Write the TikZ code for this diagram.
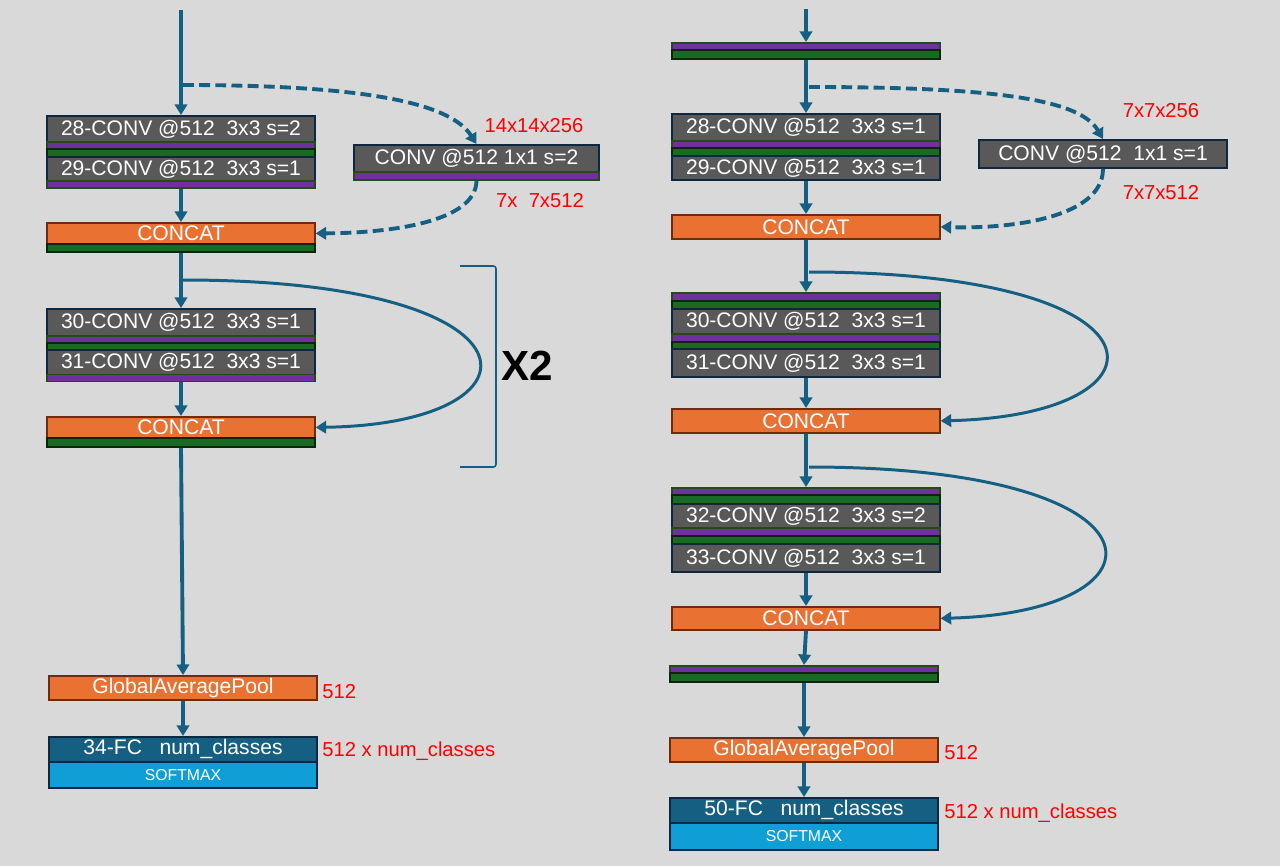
\documentclass[tikz,border=0pt]{standalone}
\usepackage{fontspec}
\setmainfont{Liberation Sans}
\usetikzlibrary{arrows.meta}
\definecolor{bg}{HTML}{D9D9D9}
\definecolor{linkblue}{HTML}{156082}
\definecolor{convgrey}{HTML}{595959}
\definecolor{convedge}{HTML}{0E2841}
\definecolor{bnpurple}{HTML}{7030A0}
\definecolor{bnedge}{HTML}{27491A}
\definecolor{actgreen}{HTML}{196B24}
\definecolor{actedge}{HTML}{0B260D}
\definecolor{catorange}{HTML}{E97132}
\definecolor{catedge}{HTML}{6E2C0E}
\definecolor{fcblue}{HTML}{156082}
\definecolor{smblue}{HTML}{0F9ED5}
\tikzset{
	flow/.style={draw=linkblue, line width=2.2pt, -{Triangle[width=7pt,length=6pt]}},
	skip/.style={flow, dash pattern=on 6.2pt off 3pt},
	around/.style={flow, line width=1.7pt},
	brk/.style={draw=linkblue, line width=0.9pt, rounded corners=1.5pt},
	ht/.style={minimum height=#1*0.02cm},
	layer/.style={draw=convedge, line width=1pt, inner sep=0pt, anchor=north, minimum width=5.35cm, text=white, font=\fontsize{12}{14}\selectfont},
	conv/.style={layer, fill=convgrey},
	bn/.style={layer, fill=bnpurple, draw=bnedge},
	act/.style={layer, fill=actgreen, draw=actedge},
	cat/.style={layer, fill=catorange, draw=catedge},
	fc/.style={layer, fill=fcblue},
	soft/.style={layer, fill=smblue, font=\fontsize{9}{10}\selectfont},
	dims/.style={text=red, inner sep=0pt, font=\fontsize{11.5}{13}\selectfont},
}
\begin{document}
\begin{tikzpicture}[x=0.02cm, y=-0.02cm]
			\useasboundingbox (0,0) rectangle (1280,866);
			\fill[bg] (0,0) rectangle (1280,866);
			% left: two-block stage
			\coordinate (lin) at (181,10);
			\coordinate (lj1) at (183,85);
			\coordinate (lj2) at (183,280);
			\node[conv, ht=26] (l28) at (181,115) {28-CONV @512\ \ 3x3 s=2};
			\node[bn, ht=7] (l28b) at (181,141) {};
			\node[act, ht=8] (l28a) at (181,148) {};
			\node[conv, ht=25] (l29) at (181,156) {29-CONV @512\ \ 3x3 s=1};
			\node[bn, ht=7] (l29b) at (181,180) {};
			\node[conv, ht=27, minimum width=4.9cm] (lsc) at (476.5,144) {CONV @512 1x1 s=2};
			\node[bn, ht=8, minimum width=4.9cm] (lscb) at (476.5,171) {};
			\node[dims] (lscin) at (534,126) {14x14x256};
			\node[dims] (lscout) at (540,201) {7x\ \ 7x512};
			\node[cat, ht=21] (lc1) at (181,222) {CONCAT};
			\node[act, ht=8] (lc1a) at (181,243) {};
			\node[conv, ht=27] (l30) at (181,308) {30-CONV @512\ \ 3x3 s=1};
			\node[bn, ht=7] (l30b) at (181,335) {};
			\node[act, ht=7] (l30a) at (181,342) {};
			\node[conv, ht=24.5] (l31) at (181,349) {31-CONV @512\ \ 3x3 s=1};
			\node[bn, ht=7] (l31b) at (181,373.5) {};
			\node[cat, ht=21] (lc2) at (181,416) {CONCAT};
			\node[act, ht=9] (lc2a) at (181,437) {};
			\node[cat, ht=24] (lgap) at (183,675) {GlobalAveragePool};
			\node[fc, ht=25] (lfc) at (183,736) {34-FC\ \ \ num\_classes};
			\node[soft, ht=26] (lsm) at (183,761) {SOFTMAX};
			\node[dims, anchor=west] (lgapd) at (322,692) {512};
			\node[dims, anchor=west] (lfcd) at (322,751) {512 x num\_classes};
			\node[font=\bfseries\fontsize{24}{26}\selectfont, inner sep=0pt] (rep) at (527,366) {X2};
			\coordinate (lbt) at (460,266);
			\coordinate (lbb) at (460,467);
			\draw[brk] (lbt) -- (496,266) -- (496,467) -- (lbb);
			\draw[flow] (lin) to (l28.north);
			\draw[skip] (lj1) .. controls (380,85) and (452,106) .. (lsc.north);
			\draw[skip] (lscb.south) .. controls (476,222) and (390,233) .. (lc1.east);
			\draw[flow] (l29b.south) to (lc1.north);
			\draw[flow] (lc1a.south) to (l30.north);
			\draw[around] (lj2) .. controls (552,280) and (552,424) .. (lc2.east);
			\draw[flow] (l31b.south) to (lc2.north);
			\draw[flow] (lc2a.south) to (lgap.north);
			\draw[flow] (lgap.south) to (lfc.north);
			% right: three-block stage
			\coordinate (rin) at (806,9);
			\coordinate (rj1) at (809,87);
			\coordinate (rj2) at (809,272);
			\coordinate (rj3) at (809,467);
			\node[bn, ht=7] (rb0) at (806,42) {};
			\node[act, ht=9] (ra0) at (806,49) {};
			\node[conv, ht=27] (r28) at (806,113) {28-CONV @512\ \ 3x3 s=1};
			\node[bn, ht=7] (r28b) at (806,140) {};
			\node[act, ht=8] (r28a) at (806,147) {};
			\node[conv, ht=24] (r29) at (806,155) {29-CONV @512\ \ 3x3 s=1};
			\node[conv, ht=28, minimum width=4.96cm] (rsc) at (1103,139) {CONV @512\ \ 1x1 s=1};
			\node[dims] (rscin) at (1161,111) {7x7x256};
			\node[dims] (rscout) at (1161,193) {7x7x512};
			\node[cat, ht=24] (rc1) at (806,214) {CONCAT};
			\node[bn, ht=8] (r30b) at (806,292) {};
			\node[act, ht=8] (r30a) at (806,300) {};
			\node[conv, ht=25] (r30) at (806,308) {30-CONV @512\ \ 3x3 s=1};
			\node[bn, ht=8] (r31b) at (806,333) {};
			\node[act, ht=7] (r31a) at (806,341) {};
			\node[conv, ht=28] (r31) at (806,348) {31-CONV @512\ \ 3x3 s=1};
			\node[cat, ht=24] (rc2) at (806,408) {CONCAT};
			\node[bn, ht=7] (r32b) at (806,487) {};
			\node[act, ht=9] (r32a) at (806,494) {};
			\node[conv, ht=24] (r32) at (806,503) {32-CONV @512\ \ 3x3 s=2};
			\node[bn, ht=8] (r33b) at (806,527) {};
			\node[act, ht=8] (r33a) at (806,535) {};
			\node[conv, ht=28] (r33) at (806,543) {33-CONV @512\ \ 3x3 s=1};
			\node[cat, ht=23] (rc3) at (806,606) {CONCAT};
			\node[bn, ht=7] (rb1) at (804,665) {};
			\node[act, ht=9] (ra1) at (804,672) {};
			\node[cat, ht=24] (rgap) at (804,737) {GlobalAveragePool};
			\node[fc, ht=25] (rfc) at (804,797) {50-FC\ \ \ num\_classes};
			\node[soft, ht=27] (rsm) at (804,822) {SOFTMAX};
			\node[dims, anchor=west] (rgapd) at (944,753) {512};
			\node[dims, anchor=west] (rfcd) at (944,813) {512 x num\_classes};
			\draw[flow] (rin) to (rb0.north);
			\draw[flow] (ra0.south) to (r28.north);
			\draw[skip] (rj1) .. controls (1000,87) and (1080,100) .. (rsc.north);
			\draw[skip] (rsc.south) .. controls (1103,218) and (1010,229) .. (rc1.east);
			\draw[flow] (r29.south) to (rc1.north);
			\draw[flow] (rc1.south) to (r30b.north);
			\draw[around] (rj2) .. controls (1179,272) and (1179,415) .. (rc2.east);
			\draw[flow] (r31.south) to (rc2.north);
			\draw[flow] (rc2.south) to (r32b.north);
			\draw[around] (rj3) .. controls (1177,467) and (1177,612) .. (rc3.east);
			\draw[flow] (r33.south) to (rc3.north);
			\draw[flow] (rc3.south) to (rb1.north);
			\draw[flow] (ra1.south) to (rgap.north);
			\draw[flow] (rgap.south) to (rfc.north);
		\end{tikzpicture}
\end{document}
